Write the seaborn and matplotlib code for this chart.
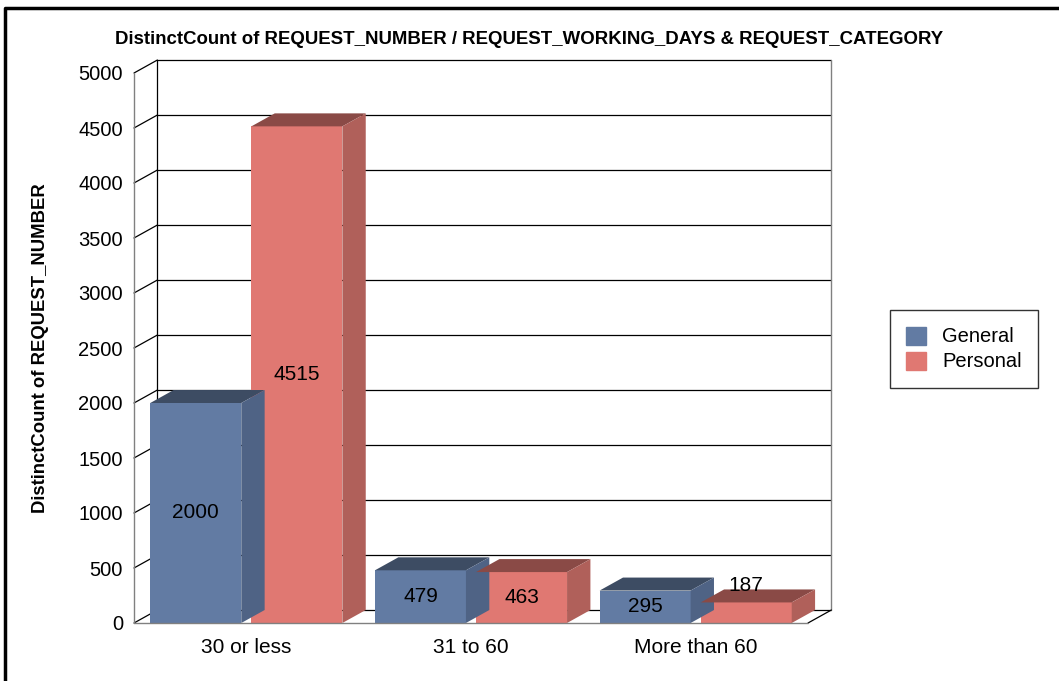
import numpy as np
import pandas as pd
import matplotlib
matplotlib.use("Agg")
import matplotlib.pyplot as plt
from matplotlib.patches import Polygon
from matplotlib.lines import Line2D
import seaborn as sns

# data
days = ["30 or less", "31 to 60", "More than 60"]
general = [2000, 479, 295]
personal = [4515, 463, 187]
categories = ["General", "Personal"]
y_ticks = [0, 500, 1000, 1500, 2000, 2500, 3000, 3500, 4000, 4500, 5000]

sns.set_theme(style="white")
plt.rcParams['font.family'] = ['Liberation Sans', 'DejaVu Sans']
plt.rcParams['text.color'] = 'black'
plt.rcParams['xtick.color'] = 'black'
plt.rcParams['ytick.color'] = 'black'
plt.rcParams['axes.labelcolor'] = 'black'

front = {"General": "#627BA3", "Personal": "#E07872"}
top_c = {"General": "#3D4C63", "Personal": "#8A4A46"}
side_c = {"General": "#4F6385", "Personal": "#B0605A"}

df = pd.DataFrame({
    "days": days * 2,
    "category": ["General"] * 3 + ["Personal"] * 3,
    "count": general + personal,
})

fig = plt.figure(figsize=(10.59, 6.81), dpi=100)
ax = fig.add_axes([134 / 1059, 58 / 681, 674 / 1059, 550 / 681])

sns.barplot(data=df, x="days", y="count", hue="category", palette=front, saturation=1,
            width=0.9, gap=0.1, ax=ax, legend=False, linewidth=0, zorder=3)

ax.set_xlim(-0.5, 2.5)
ax.set_ylim(0, 5000)
ddx, ddy = 0.104, 118  # depth of the fake 3d

# back wall + grid
x0, x1 = -0.5, 2.5
for t in y_ticks:
    ax.add_line(Line2D([x0 + ddx, x1 + ddx], [t + ddy, t + ddy], color="black", lw=0.9, zorder=1, clip_on=False))
    ax.add_line(Line2D([x0, x0 + ddx], [t, t + ddy], color="black", lw=0.9, zorder=1, clip_on=False))
ax.add_line(Line2D([x0 + ddx, x0 + ddx], [ddy, 5000 + ddy], color="black", lw=0.9, zorder=1, clip_on=False))
ax.add_line(Line2D([x1 + ddx, x1 + ddx], [ddy, 5000 + ddy], color="#808080", lw=1.0, zorder=1, clip_on=False))
ax.add_line(Line2D([x0, x0], [0, 5000], color="#808080", lw=1.0, zorder=1, clip_on=False))
ax.add_line(Line2D([x0, x1], [0, 0], color="#808080", lw=1.0, zorder=5, clip_on=False))
ax.add_line(Line2D([x1, x1 + ddx], [0, ddy], color="black", lw=0.9, zorder=1, clip_on=False))

# 3d faces for each bar
hue_order = ["General"] * 3 + ["Personal"] * 3
for p, cat, val in zip(ax.patches, hue_order, general + personal):
    bx0 = p.get_x()
    bx1 = bx0 + p.get_width()
    h = p.get_height()
    ax.add_patch(Polygon([(bx0, h), (bx1, h), (bx1 + ddx, h + ddy), (bx0 + ddx, h + ddy)],
                         closed=True, color=top_c[cat], lw=0, zorder=3, clip_on=False))
    ax.add_patch(Polygon([(bx1, 0), (bx1 + ddx, ddy), (bx1 + ddx, h + ddy), (bx1, h)],
                         closed=True, color=side_c[cat], lw=0, zorder=3, clip_on=False))
    cx = bx0 + p.get_width() / 2
    if h > 250:
        ax.text(cx, h / 2, str(val), ha="center", va="center", fontsize=15, zorder=6)
    else:
        ax.text(cx, h + 150, str(val), ha="center", va="center", fontsize=15, zorder=6)

for s in ax.spines.values():
    s.set_visible(False)
ax.set_yticks(y_ticks)
ax.set_yticklabels([str(t) for t in y_ticks], fontsize=14.5)
ax.tick_params(axis="y", length=0, pad=8)
ax.tick_params(axis="x", length=0, pad=11, labelsize=15)
ax.set_xlabel("")
ax.set_ylabel("DistinctCount of REQUEST_NUMBER", fontsize=13.3, fontweight="bold")
ax.yaxis.set_label_coords(-0.126, 0.5)
ax.patch.set_visible(False)

fig.text(0.5, 1 - 40 / 681, "DistinctCount of REQUEST_NUMBER / REQUEST_WORKING_DAYS & REQUEST_CATEGORY",
         ha="center", va="center", fontsize=13.4, fontweight="bold")

handles = [plt.Rectangle((0, 0), 1, 1, color=front[c]) for c in categories]
leg = fig.legend(handles, categories, loc="center", bbox_to_anchor=(964 / 1059, 1 - 349 / 681),
                 fontsize=14.5, frameon=True, fancybox=False, handlelength=1.0, handleheight=1.0,
                 borderpad=0.8, labelspacing=0.25, handletextpad=0.8, borderaxespad=0)
leg.get_frame().set_edgecolor("black")
leg.get_frame().set_linewidth(1.0)

# figure border (top and left)
fig.add_artist(Line2D([4.5 / 1059, 4.5 / 1059, 1], [0, 1 - 8 / 681, 1 - 8 / 681],
                      transform=fig.transFigure, color="black", lw=2.5))

fig.savefig("out.png", dpi=100)
